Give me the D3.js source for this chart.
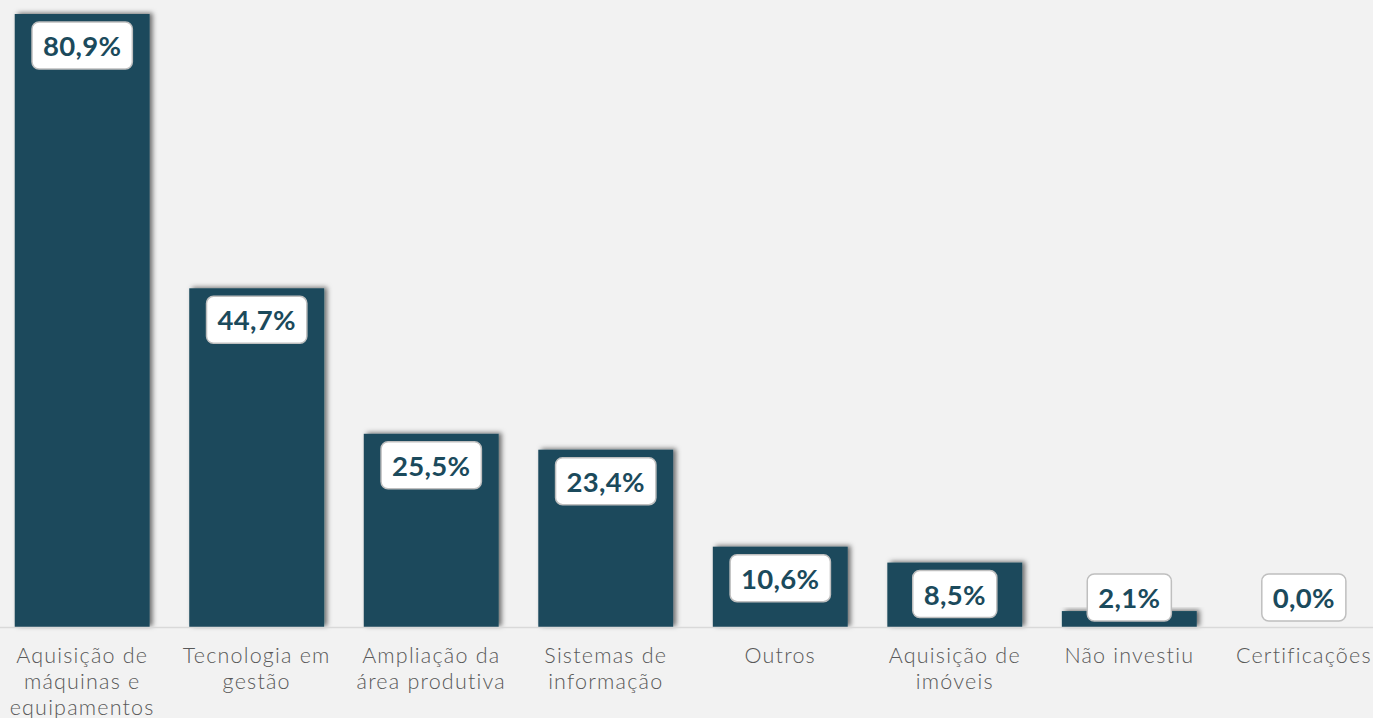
<!DOCTYPE html>
<html>
<head>
<meta charset="utf-8">
<script src="https://cdn.jsdelivr.net/npm/d3@7"></script>
<style>
  html, body { margin: 0; padding: 0; background: #f2f2f2; overflow: hidden; }
  svg { display: block; }
</style>
</head>
<body>
<script>
// Investment categories (line breaks mark how each label wraps)
const categories = [
  "Aquisição de\nmáquinas e\nequipamentos",
  "Tecnologia em\ngestão",
  "Ampliação da\nárea produtiva",
  "Sistemas de\ninformação",
  "Outros",
  "Aquisição de\nimóveis",
  "Não investiu",
  "Certificações"
];
// Share of companies, in percent
const values = [80.9, 44.7, 25.5, 23.4, 10.6, 8.5, 2.1, 0.0];

const W = 1373, H = 718;
const baseY = 627;
const barColor = "#1b4a5c";

const svg = d3.select("body").append("svg").attr("width", W).attr("height", H);

const defs = svg.append("defs");
const f = defs.append("filter").attr("id", "shadow")
  .attr("x", "-20%").attr("y", "-20%").attr("width", "140%").attr("height", "140%");
f.append("feDropShadow").attr("dx", 3).attr("dy", -1).attr("stdDeviation", 2.5)
  .attr("flood-color", "#000").attr("flood-opacity", 0.55);

const x = d3.scaleBand().domain(d3.range(categories.length))
  .range([-5, 1391]).paddingInner(0.227).paddingOuter(0.113);
const y = d3.scaleLinear().domain([0, 80.9]).range([baseY, 14]);

// Bars
svg.append("g").selectAll("rect").data(values).join("rect")
  .attr("x", (d, i) => x(i))
  .attr("y", d => y(d))
  .attr("width", x.bandwidth())
  .attr("height", d => baseY - y(d))
  .attr("fill", barColor)
  .attr("filter", d => d > 0 ? "url(#shadow)" : null);

// Baseline
svg.append("line").attr("x1", 0).attr("x2", W).attr("y1", baseY + 0.5).attr("y2", baseY + 0.5)
  .attr("stroke", "#d9d9d9").attr("stroke-width", 1.5);

// Category labels
const fmt = v => d3.format(".1f")(v).replace(".", ",") + "%";
const catG = svg.append("g");
categories.forEach((c, i) => {
  const t = catG.append("text")
    .attr("x", x(i) + x.bandwidth() / 2)
    .attr("y", 663)
    .attr("text-anchor", "middle")
    .attr("font-family", "Lato, 'Open Sans', sans-serif")
    .attr("font-weight", 300)
    .attr("font-size", 21.5)
    .attr("letter-spacing", 1.2)
    .attr("fill", "#595959");
  c.split("\n").forEach((line, j) => {
    t.append("tspan").attr("x", x(i) + x.bandwidth() / 2).attr("dy", j === 0 ? 0 : 26).text(line);
  });
});

// Value labels in white boxes
const boxH = 47;
const lblG = svg.append("g");
values.forEach((v, i) => {
  const cx = x(i) + x.bandwidth() / 2;
  const top = Math.min(y(v) + 8, baseY - 6 - boxH);
  const g = lblG.append("g");
  const rect = g.append("rect");
  const txt = g.append("text")
    .attr("x", cx).attr("y", top + 34)
    .attr("text-anchor", "middle")
    .attr("font-family", "Lato, sans-serif")
    .attr("font-weight", "bold")
    .attr("font-size", 27.5)
    .attr("letter-spacing", 0.3)
    .attr("fill", barColor)
    .text(fmt(v));
  const w = txt.node().getComputedTextLength() + 22;
  rect.attr("x", cx - w / 2).attr("y", top).attr("width", w).attr("height", boxH)
    .attr("rx", 7).attr("fill", "#fff").attr("stroke", "#bfbfbf").attr("stroke-width", 1.5);
});
</script>
</body>
</html>
